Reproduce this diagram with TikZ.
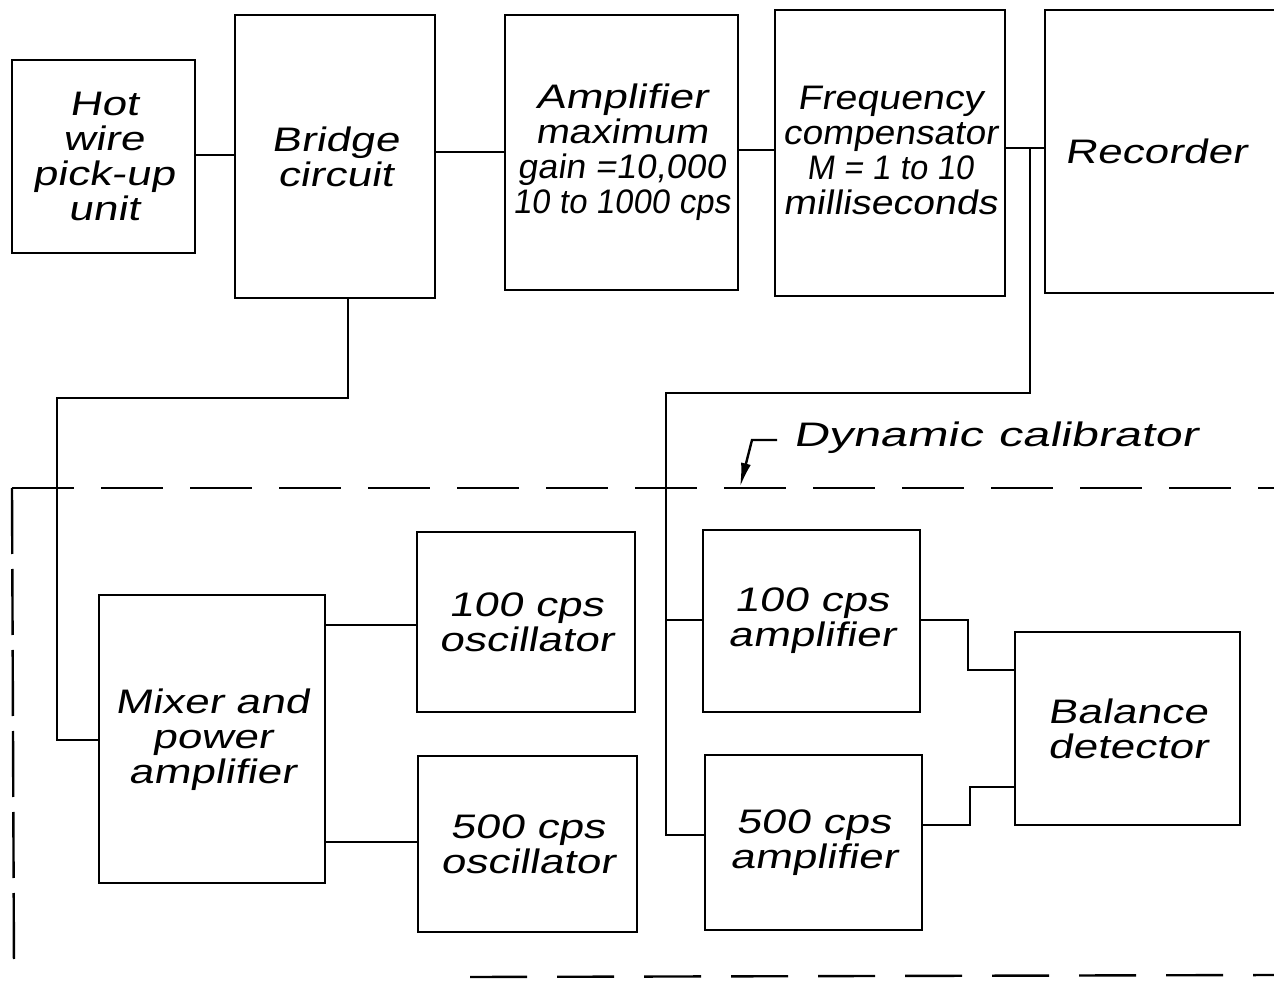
\documentclass[tikz,border=0pt]{standalone}
\usepackage{fontspec}
\usepackage{graphicx}
\newfontfamily\lett{Liberation Sans}[FakeStretch=1.3,FakeSlant=0.18]
\usetikzlibrary{arrows.meta}
\newcommand\sq[2]{\scalebox{#1}[1]{#2}}
\tikzset{
  blk/.style={draw, line width=1.25pt, inner sep=0pt, outer sep=0pt, align=center,
    font=\lett\fontsize{17}{17.5}\selectfont},
  lbl/.style={inner sep=0pt, outer sep=0pt, font=\lett\fontsize{17}{17.5}\selectfont},
  wire/.style={line width=1.2pt},
  dashtop/.style={line width=1.2pt, dash pattern=on 31pt off 13.5pt},
  dashleft/.style={line width=1.2pt, dash pattern=on 33pt off 7.5pt},
  dashbot/.style={line width=1.2pt, dash pattern=on 28.5pt off 15pt}
}
\begin{document}
\begin{tikzpicture}[x=0.5pt,y=-0.5pt]
\useasboundingbox (0,0) rectangle (1274,983);
\clip (0,0) rectangle (1274,983);
\fill[white] (0,0) rectangle (1274,983);

% upper chain
\node[blk, minimum width=91.5pt, minimum height=96.5pt] (hot) at (103.5,156.5) {Hot\\wire\\pick-up\\unit};
\node[blk, minimum width=100pt, minimum height=141.5pt] (bridge) at (335,156.5) {Bridge\\circuit};
\node[blk, minimum width=116.5pt, minimum height=137.5pt] (amp) at (621.5,152.5)
  {Amplifier\\\sq{0.9}{maximum}\\\sq{0.81}{gain =10,000}\\\sq{0.75}{10 to 1000 cps}};
\node[blk, minimum width=115pt, minimum height=143pt] (freq) at (890,153)
  {\raisebox{3pt}{\sq{0.89}{Frequency}}\\\raisebox{3pt}{\sq{0.84}{compensator}}\\\raisebox{3pt}{\sq{0.75}{M = 1 to 10}}\\\raisebox{3pt}{\sq{0.89}{milliseconds}}};
\node[blk, minimum width=122.5pt, minimum height=141.5pt] (rec) at (1167.5,151.5) {Recorder\hspace{12pt}};

% lower blocks
\node[blk, minimum width=113pt, minimum height=144pt] (mixer) at (212,739) {\\[-4pt]Mixer and\\power\\amplifier};
\node[blk, minimum width=109pt, minimum height=90pt] (osc100) at (526,622) {100 cps\\oscillator};
\node[blk, minimum width=109.5pt, minimum height=88pt] (osc500) at (527.5,844) {500 cps\\oscillator};
\node[blk, minimum width=108.5pt, minimum height=91pt] (amp100) at (811.5,621) {100 cps\\amplifier};
\node[blk, minimum width=108.5pt, minimum height=87.5pt] (amp500) at (813.5,842.5) {500 cps\\amplifier};
\node[blk, minimum width=112.5pt, minimum height=96.5pt] (bal) at (1127.5,728.5) {Balance\\detector};

% upper connectors
\coordinate (c1) at (215,155);
\coordinate (c2) at (470,152);
\coordinate (c3) at (755,150);
\coordinate (br) at (1030,148);
\draw[wire] (hot.east |- c1) -- (c1 -| bridge.west);
\draw[wire] (bridge.east |- c2) -- (c2 -| amp.west);
\draw[wire] (amp.east |- c3) -- (c3 -| freq.west);
\draw[wire] (freq.east |- br) -- (br -| rec.west);

% bridge to mixer
\coordinate (bj) at (348,398);
\coordinate (lj1) at (57,398);
\coordinate (lj2) at (57,740);
\draw[wire] (bridge.south -| bj) -- (bj) -- (lj1) -- (lj2) -- (lj2 -| mixer.west);

% mixer to oscillators
\coordinate (m1) at (370,625);
\coordinate (m2) at (370,842);
\draw[wire] (mixer.east |- m1) -- (m1 -| osc100.west);
\draw[wire] (mixer.east |- m2) -- (m2 -| osc500.west);

% branch from recorder input to the amplifiers
\coordinate (br2) at (1030,393);
\coordinate (br3) at (666,393);
\coordinate (br4) at (666,620);
\coordinate (br5) at (666,835);
\draw[wire] (br) -- (br2) -- (br3) -- (br5) -- (br5 -| amp500.west);
\draw[wire] (br4) -- (br4 -| amp100.west);

% amplifiers to balance detector
\coordinate (a1) at (968,620);
\coordinate (a2) at (968,670);
\coordinate (a3) at (970,825);
\coordinate (a4) at (970,787);
\draw[wire] (amp100.east |- a1) -- (a1) -- (a2) -- (a2 -| bal.west);
\draw[wire] (amp500.east |- a3) -- (a3) -- (a4) -- (a4 -| bal.west);

% dynamic calibrator enclosure
\coordinate (dc) at (12,488);
\coordinate (dtr) at (1274,488);
\coordinate (dbl) at (14,970);
\coordinate (db1) at (470,977);
\coordinate (db2) at (1274,975);
\draw[dashtop] (dc) -- (dtr);
\draw[dashleft] (dc) -- (dbl);
\draw[dashbot] (db1) -- (db2);

% label
\node[lbl, anchor=base west] (dyn) at (793,447) {\sq{1.1}{Dynamic\hspace{7pt}calibrator}};
\coordinate (ld1) at (777,440);
\coordinate (ld2) at (752,440);
\coordinate (tip) at (740,487);
\draw[wire, -{Latex[length=12pt,width=5pt]}] (ld1) -- (ld2) -- (tip);
\end{tikzpicture}
\end{document}
